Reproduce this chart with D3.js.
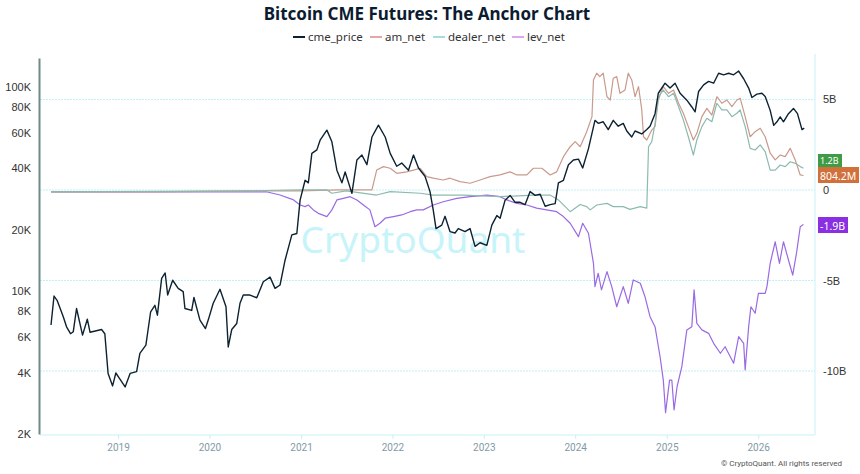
<!DOCTYPE html>
<html>
<head>
<meta charset="utf-8">
<script src="https://cdn.jsdelivr.net/npm/d3@7"></script>
<style>
  body { margin: 0; background: #fff; }
  svg { display: block; font-family: "Noto Sans", "Open Sans", sans-serif; }
</style>
</head>
<body>
<div id="chart"></div>
<script>
// values
const cmePrice = [
  ['2018-04-08', 6840], ['2018-04-20', 9480], ['2018-05-03', 9000], ['2018-05-27', 7500],
  ['2018-06-09', 6700], ['2018-06-25', 6200], ['2018-07-06', 6340], ['2018-07-19', 8240],
  ['2018-08-12', 6100], ['2018-08-31', 7300], ['2018-09-11', 6300], ['2018-10-27', 6500],
  ['2018-11-09', 6200], ['2018-11-22', 3960], ['2018-12-10', 3440], ['2018-12-23', 3980],
  ['2019-01-09', 3700], ['2019-01-29', 3400], ['2019-02-18', 3960], ['2019-03-16', 4040],
  ['2019-03-29', 4970], ['2019-04-22', 5450], ['2019-05-11', 7940], ['2019-05-28', 8540],
  ['2019-06-07', 7640], ['2019-06-24', 11580], ['2019-07-08', 12300], ['2019-07-18', 9590],
  ['2019-08-07', 11330], ['2019-08-29', 10340], ['2019-09-18', 9960], ['2019-09-25', 8240],
  ['2019-10-22', 8060], ['2019-10-31', 9330], ['2019-11-24', 7230], ['2019-12-16', 6570],
  ['2019-12-27', 7230], ['2020-01-16', 8740], ['2020-02-12', 10230], ['2020-03-07', 8400],
  ['2020-03-16', 5340], ['2020-03-30', 6500], ['2020-04-19', 6960], ['2020-05-02', 8740],
  ['2020-05-15', 9590], ['2020-06-11', 9590], ['2020-07-08', 9300], ['2020-08-03', 11140],
  ['2020-08-30', 11740], ['2020-09-19', 10340], ['2020-10-09', 10740], ['2020-10-29', 14200],
  ['2020-11-25', 18900], ['2020-12-15', 19200], ['2020-12-28', 27960], ['2021-01-17', 35000],
  ['2021-01-30', 34000], ['2021-02-13', 47400], ['2021-03-05', 49300], ['2021-03-18', 55000],
  ['2021-04-14', 61600], ['2021-05-04', 54000], ['2021-05-24', 39200], ['2021-06-13', 34000],
  ['2021-06-26', 38400], ['2021-07-23', 30200], ['2021-08-12', 44000], ['2021-09-01', 46500],
  ['2021-09-21', 41700], ['2021-10-11', 57000], ['2021-11-06', 65200], ['2021-12-03', 57000],
  ['2021-12-23', 47400], ['2022-01-18', 41000], ['2022-02-07', 42500], ['2022-03-06', 39200],
  ['2022-03-26', 46500], ['2022-04-15', 40200], ['2022-05-11', 36600], ['2022-05-31', 30800],
  ['2022-06-13', 25000], ['2022-06-24', 20300], ['2022-07-17', 21100], ['2022-07-30', 23300],
  ['2022-08-19', 19600], ['2022-09-08', 19300], ['2022-09-21', 20300], ['2022-10-18', 19600],
  ['2022-11-07', 20300], ['2022-11-27', 16600], ['2022-12-17', 17300], ['2023-01-13', 16800],
  ['2023-02-02', 21100], ['2023-02-22', 23500], ['2023-03-07', 22800], ['2023-03-27', 27960],
  ['2023-04-16', 29500], ['2023-05-06', 27300], ['2023-05-26', 27300], ['2023-06-15', 26600],
  ['2023-07-05', 30800], ['2023-07-25', 29500], ['2023-08-14', 29900], ['2023-09-03', 26100],
  ['2023-09-23', 26600], ['2023-10-13', 26900], ['2023-10-26', 34000], ['2023-11-15', 35000],
  ['2023-12-05', 41700], ['2023-12-25', 44000], ['2024-01-14', 44400], ['2024-01-31', 40200],
  ['2024-02-23', 50000], ['2024-03-20', 68800], ['2024-04-02', 66500], ['2024-04-22', 67700],
  ['2024-05-12', 62000], ['2024-06-01', 68800], ['2024-06-21', 64400], ['2024-07-11', 66500],
  ['2024-07-25', 61000], ['2024-08-14', 57000], ['2024-08-27', 61000], ['2024-09-23', 59000],
  ['2024-10-13', 62000], ['2024-10-26', 64400], ['2024-11-15', 74200], ['2024-11-28', 93400],
  ['2024-12-25', 104600], ['2025-01-14', 99000], ['2025-02-03', 104600], ['2025-02-23', 93400],
  ['2025-03-22', 86400], ['2025-04-11', 80000], ['2025-04-24', 75700], ['2025-05-08', 95300],
  ['2025-05-28', 102700], ['2025-06-17', 106700], ['2025-07-07', 104600], ['2025-07-27', 117000],
  ['2025-08-16', 115000], ['2025-09-05', 117000], ['2025-09-25', 115000], ['2025-10-15', 120000],
  ['2025-11-04', 110000], ['2025-11-24', 99000], ['2025-12-07', 89000], ['2025-12-27', 92500],
  ['2026-01-16', 93400], ['2026-01-29', 90000], ['2026-02-18', 77000], ['2026-03-04', 65000],
  ['2026-03-17', 67700], ['2026-03-30', 71500], ['2026-04-12', 67700], ['2026-05-02', 74200],
  ['2026-05-22', 78700], ['2026-06-07', 74200], ['2026-06-25', 62000], ['2026-07-04', 63000]
];

// net positions, billions of USD
const amNet = [
  ['2018-04-08', -0.1], ['2019-06-01', -0.1], ['2020-06-01', -0.05], ['2021-01-01', -0.05],
  ['2021-06-01', 0.0], ['2021-10-11', 0.0], ['2021-10-30', 1.1], ['2021-11-26', 1.29],
  ['2021-12-23', 1.2], ['2022-01-18', 0.92], ['2022-02-27', 1.0], ['2022-03-26', 1.1],
  ['2022-04-22', 1.2], ['2022-05-18', 0.74], ['2022-06-13', 0.65], ['2022-07-23', 0.55],
  ['2022-08-19', 0.65], ['2022-09-28', 0.46], ['2022-11-07', 0.37], ['2022-12-17', 0.55],
  ['2023-01-26', 0.74], ['2023-03-07', 0.83], ['2023-04-16', 1.0], ['2023-05-13', 0.83],
  ['2023-06-22', 0.83], ['2023-07-18', 1.2], ['2023-08-21', 1.2], ['2023-09-23', 0.83],
  ['2023-10-19', 1.0], ['2023-11-15', 1.84], ['2023-12-12', 2.39], ['2024-01-01', 2.67],
  ['2024-01-21', 2.39], ['2024-02-16', 3.22], ['2024-03-08', 4.05], ['2024-03-14', 6.08],
  ['2024-03-27', 6.45], ['2024-04-08', 6.26], ['2024-04-22', 6.45], ['2024-05-07', 5.15],
  ['2024-05-20', 4.97], ['2024-06-01', 6.17], ['2024-06-15', 6.26], ['2024-06-28', 5.34],
  ['2024-07-18', 5.52], ['2024-07-31', 6.45], ['2024-08-14', 6.08], ['2024-08-27', 5.15],
  ['2024-09-10', 5.71], ['2024-09-23', 4.42], ['2024-09-30', 2.94], ['2024-10-13', 2.76],
  ['2024-11-02', 3.31], ['2024-11-15', 3.5], ['2024-11-28', 4.97], ['2024-12-18', 5.71],
  ['2025-01-08', 5.34], ['2025-01-28', 5.52], ['2025-02-17', 4.79], ['2025-03-08', 4.24],
  ['2025-03-28', 3.5], ['2025-04-17', 2.76], ['2025-05-01', 3.13], ['2025-05-21', 4.05],
  ['2025-06-10', 4.51], ['2025-06-30', 4.14], ['2025-07-20', 5.15], ['2025-08-09', 4.79],
  ['2025-08-29', 4.97], ['2025-09-18', 4.6], ['2025-10-08', 4.97], ['2025-10-21', 5.07],
  ['2025-11-10', 4.05], ['2025-11-30', 2.94], ['2025-12-20', 3.22], ['2026-01-09', 3.41],
  ['2026-01-29', 2.94], ['2026-02-18', 2.03], ['2026-03-10', 1.66], ['2026-03-30', 1.93],
  ['2026-04-19', 1.84], ['2026-05-09', 2.3], ['2026-05-29', 1.66], ['2026-06-18', 0.83],
  ['2026-07-01', 0.8]
];

const dealerNet = [
  ['2018-04-08', -0.1], ['2020-06-01', -0.05], ['2021-01-01', 0.0], ['2021-04-14', 0.0],
  ['2021-05-04', -0.18], ['2021-06-30', -0.05], ['2021-10-30', -0.28], ['2021-12-23', -0.09],
  ['2022-04-22', -0.18], ['2022-06-13', -0.28], ['2022-10-10', -0.28], ['2023-03-07', -0.37],
  ['2023-07-18', -0.28], ['2023-09-23', -0.28], ['2023-10-26', -0.55], ['2023-12-12', -1.2],
  ['2024-01-21', -0.8], ['2024-02-16', -0.92], ['2024-03-01', -1.1], ['2024-03-27', -0.83],
  ['2024-05-07', -0.74], ['2024-06-01', -0.92], ['2024-07-11', -0.92], ['2024-08-07', -1.07],
  ['2024-09-17', -0.92], ['2024-10-13', -1.0], ['2024-10-20', 2.39], ['2024-11-02', 2.67],
  ['2024-11-15', 3.68], ['2024-11-28', 5.15], ['2024-12-18', 5.52], ['2025-01-08', 5.15],
  ['2025-01-28', 5.34], ['2025-02-17', 4.6], ['2025-03-08', 3.87], ['2025-03-28', 2.94],
  ['2025-04-17', 1.93], ['2025-05-01', 2.76], ['2025-05-21', 3.5], ['2025-06-10', 3.96],
  ['2025-06-30', 3.77], ['2025-07-20', 4.79], ['2025-08-09', 4.42], ['2025-08-29', 4.42],
  ['2025-09-18', 4.05], ['2025-10-08', 4.24], ['2025-10-21', 4.42], ['2025-11-10', 3.5],
  ['2025-11-30', 2.3], ['2025-12-20', 2.21], ['2026-01-09', 2.49], ['2026-01-29', 2.12],
  ['2026-02-18', 1.1], ['2026-03-10', 1.1], ['2026-03-30', 1.38], ['2026-04-19', 1.29],
  ['2026-05-09', 1.56], ['2026-05-29', 1.47], ['2026-06-18', 1.29], ['2026-07-01', 1.2]
];

const levNet = [
  ['2018-04-08', -0.1], ['2019-06-01', -0.1], ['2020-01-01', -0.1], ['2020-08-15', -0.1],
  ['2020-10-09', -0.28], ['2020-12-02', -0.55], ['2020-12-28', -0.83], ['2021-01-17', -0.92],
  ['2021-01-30', -0.83], ['2021-02-19', -1.1], ['2021-03-11', -1.29], ['2021-04-14', -1.47],
  ['2021-05-04', -1.1], ['2021-05-24', -0.55], ['2021-06-19', -0.46], ['2021-07-16', -0.37],
  ['2021-08-12', -0.55], ['2021-09-07', -0.83], ['2021-10-03', -1.1], ['2021-10-23', -2.03],
  ['2021-11-12', -1.84], ['2021-12-03', -1.56], ['2022-01-05', -1.47], ['2022-02-07', -1.38],
  ['2022-03-13', -1.2], ['2022-04-08', -1.1], ['2022-05-04', -1.1], ['2022-06-13', -0.83],
  ['2022-07-23', -0.65], ['2022-09-15', -0.46], ['2022-11-07', -0.37], ['2023-01-13', -0.28],
  ['2023-03-07', -0.37], ['2023-04-03', -0.55], ['2023-05-13', -0.74], ['2023-06-22', -0.83],
  ['2023-07-31', -1.0], ['2023-09-09', -1.1], ['2023-10-19', -1.2], ['2023-11-15', -1.47],
  ['2023-12-12', -1.84], ['2024-01-14', -2.58], ['2024-01-31', -1.84], ['2024-02-23', -2.39],
  ['2024-03-14', -4.05], ['2024-03-20', -5.34], ['2024-04-02', -4.6], ['2024-04-15', -5.52],
  ['2024-05-07', -4.51], ['2024-05-26', -5.34], ['2024-06-15', -6.45], ['2024-07-11', -5.34],
  ['2024-07-31', -6.26], ['2024-08-20', -4.97], ['2024-09-17', -5.15], ['2024-10-06', -5.9],
  ['2024-10-26', -7.0], ['2024-11-15', -7.55], ['2024-12-05', -9.2], ['2024-12-18', -10.5],
  ['2024-12-27', -12.3], ['2025-01-12', -10.5], ['2025-01-21', -10.5], ['2025-01-30', -12.15],
  ['2025-02-11', -10.87], ['2025-03-02', -9.76], ['2025-03-22', -7.73], ['2025-04-11', -7.55],
  ['2025-04-20', -5.52], ['2025-05-01', -7.37], ['2025-05-21', -7.73], ['2025-06-17', -7.92],
  ['2025-07-07', -8.47], ['2025-08-03', -9.02], ['2025-08-22', -8.66], ['2025-09-11', -9.2],
  ['2025-09-25', -9.57], ['2025-10-15', -8.1], ['2025-11-04', -8.47], ['2025-11-10', -9.94],
  ['2025-11-24', -7.55], ['2025-12-03', -6.45], ['2025-12-20', -6.81], ['2026-01-02', -5.71],
  ['2026-01-29', -5.71], ['2026-02-05', -5.34], ['2026-02-18', -4.05], ['2026-03-10', -2.86],
  ['2026-03-27', -4.05], ['2026-04-12', -2.86], ['2026-05-02', -3.87], ['2026-05-19', -4.7],
  ['2026-06-04', -3.41], ['2026-06-18', -2.03], ['2026-07-01', -1.9]
];

const yearTicks = ['2019', '2020', '2021', '2022', '2023', '2024', '2025', '2026'];
const priceTicks = [2000, 4000, 6000, 8000, 10000, 20000, 40000, 60000, 80000, 100000];
const netTicks = [5, 0, -5, -10];
const lastLabels = [
  {name: 'dealer_net', text: '1.2B', color: '#3f9b45'},
  {name: 'am_net', text: '804.2M', color: '#d2703b'},
  {name: 'lev_net', text: '-1.9B', color: '#8b2fe3'}
];

const width = 860,
  height = 474,
  margin = {top: 58, right: 45, bottom: 40, left: 40};

const parse = d3.timeParse('%Y-%m-%d');

const svg = d3.select('#chart').append('svg')
  .attr('width', width)
  .attr('height', height);

const x = d3.scaleTime()
  .domain([parse('2018-02-23'), parse('2026-08-16')])
  .range([margin.left, width - margin.right]);
const yPrice = d3.scaleLog()
  .domain([2000, 139000])
  .range([height - margin.bottom, margin.top]);
const yNet = d3.scaleLinear()
  .domain([-13.48, 7.29])
  .range([height - margin.bottom, margin.top]);

const plotBottom = height - margin.bottom,
  plotRight = width - margin.right;

// title
svg.append('text')
  .attr('x', 427)
  .attr('y', 20)
  .attr('text-anchor', 'middle')
  .attr('font-size', 17)
  .attr('font-weight', 'bold')
  .attr('fill', '#0c1c30')
  .text('Bitcoin CME Futures: The Anchor Chart');

// legend
const legendItems = [
  {name: 'cme_price', color: '#0d2230', x: 293},
  {name: 'am_net', color: '#e6a6a6', x: 370},
  {name: 'dealer_net', color: '#a6dcdc', x: 433},
  {name: 'lev_net', color: '#dba6f2', x: 512}
];
const legend = svg.append('g');
legendItems.forEach(d => {
  legend.append('line')
    .attr('x1', d.x).attr('x2', d.x + 12)
    .attr('y1', 37).attr('y2', 37)
    .attr('stroke', d.color)
    .attr('stroke-width', 2);
  legend.append('text')
    .attr('x', d.x + 15)
    .attr('y', 41)
    .attr('font-size', 11.5)
    .attr('fill', '#333')
    .text(d.name);
});

// grid lines belong to the right axis
svg.append('g')
  .selectAll('line')
  .data(netTicks)
  .enter().append('line')
  .attr('x1', margin.left)
  .attr('x2', plotRight)
  .attr('y1', d => yNet(d))
  .attr('y2', d => yNet(d))
  .attr('stroke', '#bff0f5')
  .attr('stroke-dasharray', '2,1');

// plot border (bottom and right)
svg.append('path')
  .attr('d', `M${margin.left},${plotBottom + 1}H${plotRight}V${margin.top - 4}`)
  .attr('fill', 'none')
  .attr('stroke', '#c6f2f6');

// watermark
svg.append('text')
  .attr('x', 413)
  .attr('y', 253)
  .attr('text-anchor', 'middle')
  .attr('font-size', 37)
  .attr('fill', '#b8f2f8')
  .attr('opacity', 0.8)
  .text('CryptoQuant');

// x axis
const xAxis = d3.axisBottom(x)
  .tickValues(yearTicks.map(y => parse(y + '-01-01')))
  .tickFormat(d3.timeFormat('%Y'))
  .tickSize(4);
const gx = svg.append('g')
  .attr('transform', `translate(0,${plotBottom + 1})`)
  .call(xAxis);
gx.select('.domain').remove();
gx.selectAll('line').attr('stroke', '#c6f2f6');
gx.selectAll('text')
  .attr('dy', 9)
  .attr('font-size', 10)
  .attr('font-family', 'Roboto, sans-serif')
  .attr('fill', '#7f9aa6');

// left axis (price, log)
const yAxisLeft = d3.axisLeft(yPrice)
  .tickValues(priceTicks)
  .tickFormat(d => (d / 1000) + 'K')
  .tickSize(0)
  .tickPadding(8);
const gl = svg.append('g')
  .attr('transform', `translate(${margin.left - 1},0)`)
  .call(yAxisLeft);
gl.select('.domain')
  .attr('stroke', '#6f8b89')
  .attr('stroke-width', 2);
gl.selectAll('text')
  .attr('font-size', 11)
  .attr('fill', '#333');

// right axis (net positions)
const yAxisRight = d3.axisRight(yNet)
  .tickValues(netTicks)
  .tickFormat(d => d === 0 ? '0' : d + 'B')
  .tickSize(0)
  .tickPadding(8);
const gr = svg.append('g')
  .attr('transform', `translate(${plotRight},0)`)
  .call(yAxisRight);
gr.select('.domain').remove();
gr.selectAll('text')
  .attr('font-size', 11)
  .attr('fill', '#333');

// series
const netLine = d3.line()
  .x(d => x(parse(d[0])))
  .y(d => yNet(d[1]));
const priceLine = d3.line()
  .x(d => x(parse(d[0])))
  .y(d => yPrice(d[1]));

const series = [
  {data: levNet, color: '#9a6ae3', line: netLine},
  {data: amNet, color: '#c99a8c', line: netLine},
  {data: dealerNet, color: '#8dbab0', line: netLine},
  {data: cmePrice, color: '#0d2230', line: priceLine, w: 1.4}
];
series.forEach(s => {
  svg.append('path')
    .datum(s.data)
    .attr('fill', 'none')
    .attr('stroke', s.color)
    .attr('stroke-width', s.w || 1.2)
    .attr('stroke-linejoin', 'round')
    .attr('d', s.line);
});

// last-value tags on the right axis
const tags = svg.append('g');
const tagPos = {
  'dealer_net': {y: 154, h: 13, w: 24, fs: 9},
  'am_net': {y: 167, h: 16, w: 41, fs: 10.5},
  'lev_net': {y: 217, h: 16, w: 30, fs: 10.5}
};
lastLabels.forEach(d => {
  const p = tagPos[d.name];
  tags.append('rect')
    .attr('x', 818)
    .attr('y', p.y)
    .attr('width', p.w)
    .attr('height', p.h)
    .attr('fill', d.color);
  tags.append('text')
    .attr('x', 820)
    .attr('y', p.y + p.h - 3.5)
    .attr('font-size', p.fs)
    .attr('fill', '#fff')
    .text(d.text);
});

// footer
svg.append('text')
  .attr('x', 842)
  .attr('y', 466)
  .attr('text-anchor', 'end')
  .attr('font-size', 8)
  .attr('font-family', 'Roboto, sans-serif')
  .attr('fill', '#555')
  .text('© CryptoQuant. All rights reserved');
</script>
</body>
</html>
